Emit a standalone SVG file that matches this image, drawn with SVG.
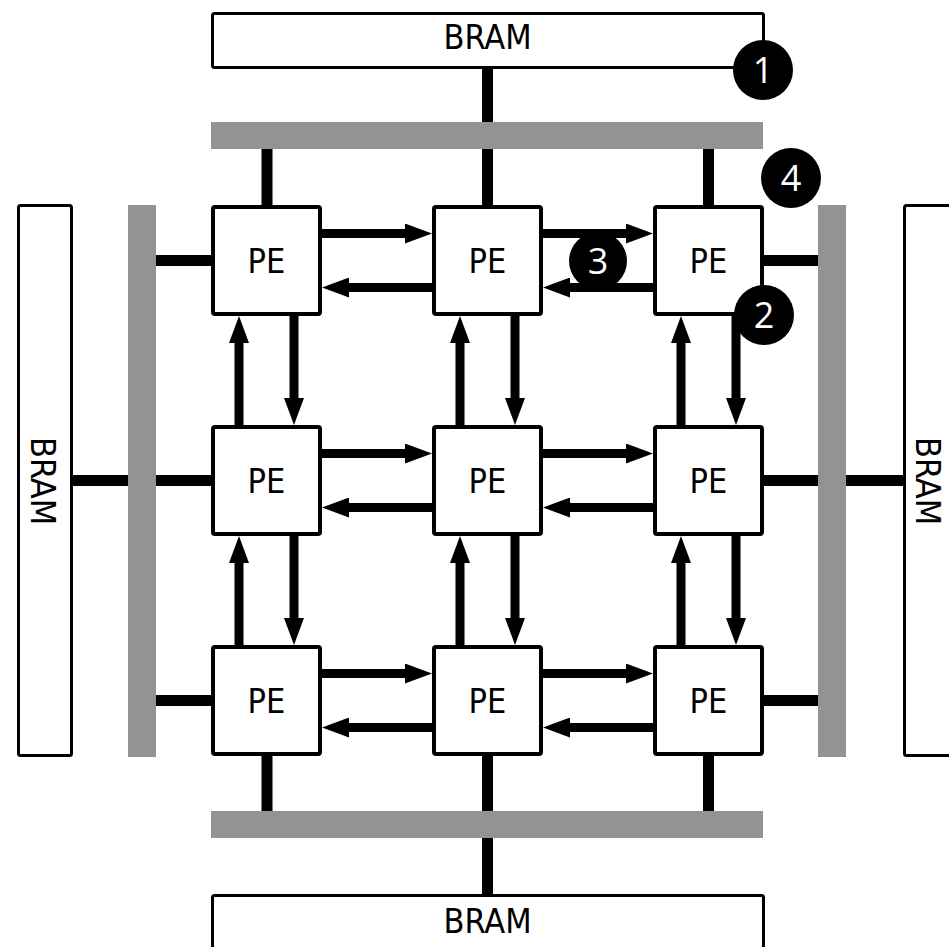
<svg xmlns="http://www.w3.org/2000/svg" width="949" height="947" viewBox="0 0 949 947">
<style>
.bram{fill:#fff;stroke:#000;stroke-width:3}
.pe{fill:#fff;stroke:#000;stroke-width:4}
.bus{fill:#939393}
.wire{stroke:#000;stroke-width:11;fill:none}
.arr{stroke:#000;stroke-width:9;fill:none;marker-end:url(#ah)}
.lbl{font-family:"DejaVu Sans Condensed","DejaVu Sans",sans-serif;font-stretch:condensed;font-size:34px;fill:#000;text-anchor:middle}
.badge circle{fill:#000}
.badge text{font-family:"Open Sans","DejaVu Sans",sans-serif;font-size:36px;fill:#fff;text-anchor:middle}
</style>
<defs>
<marker id="ah" markerUnits="userSpaceOnUse" markerWidth="27" markerHeight="20" refX="7" refY="10" orient="auto">
<path d="M0,0 L27,10 L0,20 z" fill="#000"/>
</marker>
</defs>
<g id="buses">
<rect class="bus" x="211" y="122" width="552" height="27"/>
<rect class="bus" x="211" y="811" width="552" height="27"/>
<rect class="bus" x="128" y="205" width="28" height="552"/>
<rect class="bus" x="818" y="205" width="28" height="552"/>
</g>
<g id="connectors">
<line class="wire" x1="487.5" y1="68" x2="487.5" y2="122"/>
<line class="wire" x1="267" y1="149" x2="267" y2="206"/>
<line class="wire" x1="487.5" y1="149" x2="487.5" y2="206"/>
<line class="wire" x1="708.5" y1="149" x2="708.5" y2="206"/>
<line class="wire" x1="267" y1="755" x2="267" y2="811"/>
<line class="wire" x1="487.5" y1="755" x2="487.5" y2="811"/>
<line class="wire" x1="708.5" y1="755" x2="708.5" y2="811"/>
<line class="wire" x1="487.5" y1="838" x2="487.5" y2="895"/>
<line class="wire" x1="156" y1="260.5" x2="212" y2="260.5"/>
<line class="wire" x1="156" y1="480.5" x2="212" y2="480.5"/>
<line class="wire" x1="156" y1="700.5" x2="212" y2="700.5"/>
<line class="wire" x1="72" y1="480.5" x2="128" y2="480.5"/>
<line class="wire" x1="763" y1="260.5" x2="818" y2="260.5"/>
<line class="wire" x1="763" y1="480.5" x2="818" y2="480.5"/>
<line class="wire" x1="763" y1="700.5" x2="818" y2="700.5"/>
<line class="wire" x1="846" y1="480.5" x2="904" y2="480.5"/>
<!-- horizontal arrows row 0 -->
<line class="arr" x1="322" y1="233.5" x2="412" y2="233.5"/>
<line class="arr" x1="432" y1="287.5" x2="342" y2="287.5"/>
<line class="arr" x1="543" y1="233.5" x2="633" y2="233.5"/>
<line class="arr" x1="653" y1="287.5" x2="563" y2="287.5"/>
<!-- row 1 -->
<line class="arr" x1="322" y1="453.5" x2="412" y2="453.5"/>
<line class="arr" x1="432" y1="507.5" x2="342" y2="507.5"/>
<line class="arr" x1="543" y1="453.5" x2="633" y2="453.5"/>
<line class="arr" x1="653" y1="507.5" x2="563" y2="507.5"/>
<!-- row 2 -->
<line class="arr" x1="322" y1="673.5" x2="412" y2="673.5"/>
<line class="arr" x1="432" y1="727.5" x2="342" y2="727.5"/>
<line class="arr" x1="543" y1="673.5" x2="633" y2="673.5"/>
<line class="arr" x1="653" y1="727.5" x2="563" y2="727.5"/>
<!-- vertical arrows rows 0-1 -->
<line class="arr" x1="239" y1="425" x2="239" y2="336"/>
<line class="arr" x1="294" y1="316" x2="294" y2="405"/>
<line class="arr" x1="460" y1="425" x2="460" y2="336"/>
<line class="arr" x1="515" y1="316" x2="515" y2="405"/>
<line class="arr" x1="681" y1="425" x2="681" y2="336"/>
<line class="arr" x1="736" y1="316" x2="736" y2="405"/>
<!-- rows 1-2 -->
<line class="arr" x1="239" y1="645" x2="239" y2="556"/>
<line class="arr" x1="294" y1="536" x2="294" y2="625"/>
<line class="arr" x1="460" y1="645" x2="460" y2="556"/>
<line class="arr" x1="515" y1="536" x2="515" y2="625"/>
<line class="arr" x1="681" y1="645" x2="681" y2="556"/>
<line class="arr" x1="736" y1="536" x2="736" y2="625"/>
</g>
<g id="bram-top"><rect class="bram" x="212.5" y="13.5" width="551" height="54" rx="2"/><text class="lbl" x="487.5" y="49">BRAM</text></g>
<g id="bram-bottom"><rect class="bram" x="212.5" y="895.5" width="551" height="60" rx="2"/><text class="lbl" x="487.5" y="933">BRAM</text></g>
<g id="bram-left"><rect class="bram" x="18.5" y="205.5" width="53" height="550" rx="2"/><text class="lbl" transform="translate(31,481) rotate(90)">BRAM</text></g>
<g id="bram-right"><rect class="bram" x="904.5" y="205.5" width="53" height="550" rx="2"/><text class="lbl" transform="translate(916,481) rotate(90)">BRAM</text></g>
<g id="pe-00"><rect class="pe" x="213" y="207" width="107" height="107" rx="2"/><text class="lbl" x="266.5" y="273">PE</text></g>
<g id="pe-01"><rect class="pe" x="434" y="207" width="107" height="107" rx="2"/><text class="lbl" x="487.5" y="273">PE</text></g>
<g id="pe-02"><rect class="pe" x="655" y="207" width="107" height="107" rx="2"/><text class="lbl" x="708.5" y="273">PE</text></g>
<g id="pe-10"><rect class="pe" x="213" y="427" width="107" height="107" rx="2"/><text class="lbl" x="266.5" y="493">PE</text></g>
<g id="pe-11"><rect class="pe" x="434" y="427" width="107" height="107" rx="2"/><text class="lbl" x="487.5" y="493">PE</text></g>
<g id="pe-12"><rect class="pe" x="655" y="427" width="107" height="107" rx="2"/><text class="lbl" x="708.5" y="493">PE</text></g>
<g id="pe-20"><rect class="pe" x="213" y="647" width="107" height="107" rx="2"/><text class="lbl" x="266.5" y="713">PE</text></g>
<g id="pe-21"><rect class="pe" x="434" y="647" width="107" height="107" rx="2"/><text class="lbl" x="487.5" y="713">PE</text></g>
<g id="pe-22"><rect class="pe" x="655" y="647" width="107" height="107" rx="2"/><text class="lbl" x="708.5" y="713">PE</text></g>
<g id="badge-1" class="badge"><circle cx="763" cy="70" r="30"/><text x="763" y="83">1</text></g>
<g id="badge-2" class="badge"><circle cx="764" cy="315" r="30"/><text x="764" y="328">2</text></g>
<g id="badge-3" class="badge"><circle cx="598" cy="261" r="29"/><text x="598" y="274">3</text></g>
<g id="badge-4" class="badge"><circle cx="791" cy="178" r="30"/><text x="791" y="191">4</text></g>
</svg>
